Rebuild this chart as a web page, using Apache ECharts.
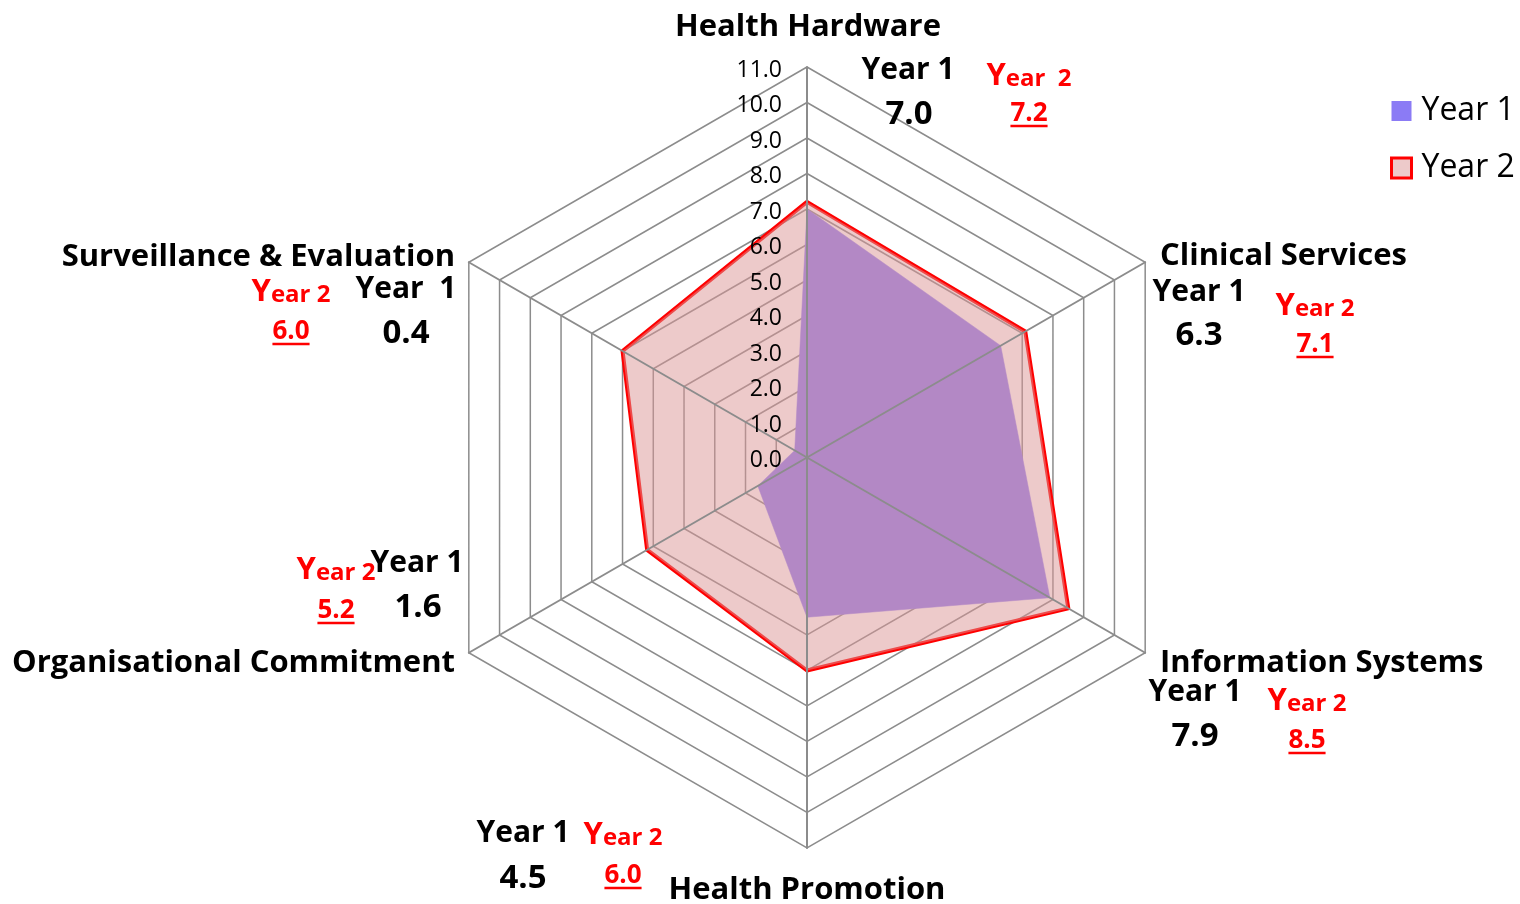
<!DOCTYPE html>
<html><head><meta charset="utf-8">
<script src="https://cdn.jsdelivr.net/npm/echarts@6/dist/echarts.min.js"></script>
<style>html,body{margin:0;padding:0;background:#fff}#c{width:1520px;height:904px}</style>
</head><body><div id="c"></div>
<script>
// ---- data (reference order, clockwise from top) ----
const categories = ['Health Hardware','Clinical Services','Information Systems','Health Promotion','Organisational Commitment','Surveillance & Evaluation'];
const year1 = [7.0, 6.3, 7.9, 4.5, 1.6, 0.4];
const year2 = [7.2, 7.1, 8.5, 6.0, 5.2, 6.0];
const seriesNames = ['Year 1', 'Year 2'];
const axisMin = 0, axisMax = 11, axisSplits = 11;

// ECharts radar runs counter-clockwise; the reference runs clockwise
const order = [0, 5, 4, 3, 2, 1];

const FONT = '"Open Sans", sans-serif';
const C1 = '#8B7BF5';
const C2 = 'rgb(219,150,150)';
const RED = '#FF0000';
const DY = 2; // baseline nudge for Open Sans

// annotation layout (positions only), in reference order
const layout = [
  {name:[808,25,'center'],  y1:[908,68],  v1:[909,113], y2:[1029,74],  v2:[1029,112], y1t:'Year 1',  y2t:'ear  2'},
  {name:[1160,254,'left'],  y1:[1199,290], v1:[1199,334], y2:[1315,304], v2:[1315,343], y1t:'Year 1', y2t:'ear 2'},
  {name:[1160,661,'left'],  y1:[1195,690], v1:[1195,735], y2:[1307,699], v2:[1307,739], y1t:'Year 1', y2t:'ear 2'},
  {name:[807,888,'center'], y1:[523,831],  v1:[523,877],  y2:[623,833],  v2:[623,874],  y1t:'Year 1', y2t:'ear 2'},
  {name:[455,661,'right'],  y1:[417,561],  v1:[418,606],  y2:[336,568],  v2:[336,609],  y1t:'Year 1', y2t:'ear 2'},
  {name:[455,255,'right'],  y1:[406,287],  v1:[406,332],  y2:[291,290],  v2:[291,330],  y1t:'Year  1', y2t:'ear 2'}
];

const cv = document.createElement('canvas').getContext('2d');
function textW(t, font){ cv.font = font; return cv.measureText(t).width; }

const graphics = [];
categories.forEach((cat, i) => {
  const L = layout[i];
  graphics.push({type:'text', x:L.name[0], y:L.name[1] + DY, z:100,
    style:{text:cat, font:'bold 31px ' + FONT, fill:'#000', textAlign:L.name[2], textVerticalAlign:'middle'}});
  graphics.push({type:'text', x:L.y1[0], y:L.y1[1] + DY, z:100,
    style:{text:L.y1t, font:'bold 30px ' + FONT, fill:'#000', textAlign:'center', textVerticalAlign:'middle'}});
  graphics.push({type:'text', x:L.v1[0], y:L.v1[1] + DY, z:100,
    style:{text:year1[i].toFixed(1), font:'bold 33px ' + FONT, fill:'#000', textAlign:'center', textVerticalAlign:'middle'}});
  graphics.push({type:'text', x:L.y2[0], y:L.y2[1] + DY, z:100,
    style:{text:'{a|Y}{b|' + L.y2t + '}', textAlign:'center', textVerticalAlign:'middle',
      rich:{a:{font:'bold 31px ' + FONT, fill:RED, lineHeight:31, verticalAlign:'bottom'},
            b:{font:'bold 24px ' + FONT, fill:RED, lineHeight:26, verticalAlign:'bottom'}}}});
  const vt = year2[i].toFixed(1);
  const vf = 'bold 26px ' + FONT;
  graphics.push({type:'text', x:L.v2[0], y:L.v2[1] + DY, z:100,
    style:{text:vt, font:vf, fill:RED, textAlign:'center', textVerticalAlign:'middle'}});
  const w = textW(vt, vf);
  graphics.push({type:'line', z:100, shape:{x1:L.v2[0]-w/2, y1:L.v2[1]+14, x2:L.v2[0]+w/2, y2:L.v2[1]+14},
    style:{stroke:RED, lineWidth:2.5}});
});

const indicators = order.map(i => ({name:categories[i], min:axisMin, max:axisMax}));
const radarBase = {center:[807,457.5], radius:390.5, startAngle:90, shape:'polygon', splitNumber:axisSplits,
  axisName:{show:false}, axisTick:{show:false}, splitArea:{show:false}};

const chart = echarts.init(document.getElementById('c'), null, {renderer:'canvas'});
chart.setOption({
  animation:false,
  backgroundColor:'#fff',
  radar:[
    Object.assign({}, radarBase, {
      indicator: indicators.map(o => Object.assign({}, o)),
      axisLine:{show:false},
      splitLine:{lineStyle:{color:'#8c8c8c', width:1.5}},
      axisLabel:{show:false}, z:1
    }),
    Object.assign({}, radarBase, {
      indicator: indicators.map((o,k) => Object.assign({}, o, k === 0 ? {axisLabel:{show:true}} : {})),
      axisLine:{show:true, lineStyle:{color:'#8c8c8c', width:2}},
      splitLine:{show:false},
      axisLabel:{show:false, showMinLabel:true, showMaxLabel:true, margin:25, color:'#000',
        fontSize:23, fontFamily:FONT,
        formatter: v => '{s| }\n{v|' + Number(v).toFixed(1) + '}',
        rich:{s:{fontSize:6, lineHeight:6}, v:{fontSize:23, fontFamily:FONT, color:'#000', lineHeight:23}}},
      z:10
    })
  ],
  legend:{orient:'vertical', left:1390, top:95, padding:0, itemWidth:20, itemHeight:20, itemGap:25,
    textStyle:{fontSize:32, fontFamily:FONT, color:'#000', lineHeight:32, padding:[0,0,0,5]},
    data:[
      {name:seriesNames[0], icon:'rect', itemStyle:{color:C1, borderWidth:0}},
      {name:seriesNames[1], icon:'rect', itemStyle:{color:'rgba(219,150,150,0.5)', borderColor:RED, borderWidth:3}}
    ]},
  series:[{
    type:'radar', radarIndex:0, z:2, symbol:'none', silent:true,
    data:[
      {name:seriesNames[0], value:order.map(i => year1[i]),
        itemStyle:{color:C1}, lineStyle:{color:C1, width:0.5}, areaStyle:{color:C1, opacity:1}},
      {name:seriesNames[1], value:order.map(i => year2[i]),
        itemStyle:{color:RED}, lineStyle:{color:RED, width:4}, areaStyle:{color:C2, opacity:0.5}}
    ]
  }],
  graphic:graphics
});
</script></body></html>
